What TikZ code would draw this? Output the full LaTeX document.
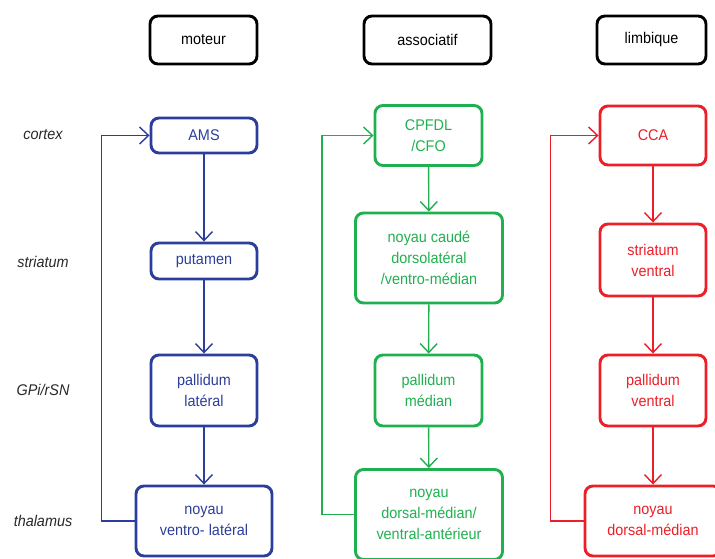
\documentclass[tikz,border=0pt]{standalone}
\usepackage{fontspec}
\setmainfont{Liberation Sans}[FakeStretch=0.93]
\usepackage{xcolor}
\usetikzlibrary{arrows.meta,positioning}

\definecolor{motblue}{RGB}{44,62,155}
\definecolor{assgreen}{RGB}{32,176,80}
\definecolor{limred}{RGB}{236,30,40}
\definecolor{levgrey}{RGB}{40,40,40}

\tikzset{
  box/.style={draw, rounded corners=8pt, line width=2.9pt, align=center,
    inner sep=0pt, font=\fontsize{15.5}{21}\selectfont},
  head/.style={box, black, minimum height=48pt},
  mot/.style={box, motblue},
  ass/.style={box, assgreen},
  lim/.style={box, limred},
  link/.style={->, line width=1.4pt},
  level/.style={levgrey, font=\fontsize{15.5}{21}\selectfont\itshape}
}

\begin{document}
\begin{tikzpicture}[x=1pt, y=1pt, >={Straight Barb[length=9pt,width=17pt]}]
    \useasboundingbox (0,0) rectangle (715,559);

    % column heads
    \node[head, minimum width=107pt] (moteur) at (203.5,519) {moteur};
    \node[head, minimum width=127pt] (assoc) at (427.5,519) {associatif};
    \node[head, minimum width=109pt] (limb) at (651.5,519) {limbique};

    % levels
    \foreach \y/\lev [count=\i] in {424/cortex, 297/striatum, 169/{GPi/rSN}, 38/thalamus} {
        \node[level] (lev\i) at (43,\y) {\lev};
    }

    % moteur loop
    \node[mot, minimum width=106pt, minimum height=35pt] (ams) at (204,423.5) {AMS};
    \node[mot, minimum width=106pt, minimum height=36pt] (put) at (204,298) {putamen};
    \node[mot, minimum width=106pt, minimum height=71pt] (gpl) at (204,168.5) {pallidum\\lat\'eral};
    \node[mot, minimum width=136pt, minimum height=70pt] (nvl) at (204,38) {noyau\\ventro- lat\'eral};
    \draw[link, motblue] (ams) -- (put);
    \draw[link, motblue] (put) -- (gpl);
    \draw[link, motblue] (gpl) -- (nvl);
    \draw[link, motblue] (nvl.west) -- ++(-33,0) |- (ams.west);

    % associatif loop
    \node[ass, minimum width=107pt, minimum height=60pt] (cpf) at (428.5,423.5) {CPFDL\\/CFO};
    \node[ass, minimum width=147pt, minimum height=90pt] (cau) at (429,301) {noyau caud\'e\\dorsolat\'eral\\/ventro-m\'edian};
    \node[ass, minimum width=107pt, minimum height=71pt] (gpm) at (428.5,168.5) {pallidum\\m\'edian};
    \node[ass, minimum width=147pt, minimum height=90pt] (ndm) at (429,44.5) {noyau\\dorsal-m\'edian/\\ventral-ant\'erieur};
    \draw[link, assgreen] (cpf) -- (cau);
    \draw[link, assgreen] (cau) -- (gpm);
    \draw[link, assgreen] (gpm) -- (ndm);
    \draw[link, assgreen] (ndm.west) -- ++(-32,0) |- (cpf.west);

    % limbique loop
    \node[lim, minimum width=106pt, minimum height=59pt] (cca) at (653,423.5) {CCA};
    \node[lim, minimum width=106pt, minimum height=72pt] (stv) at (653,299) {striatum\\ventral};
    \node[lim, minimum width=106pt, minimum height=71pt] (gpv) at (653,168.5) {pallidum\\ventral};
    \node[lim, minimum width=136pt, minimum height=70pt] (ndml) at (653,38) {noyau\\dorsal-m\'edian};
    \draw[link, limred] (cca) -- (stv);
    \draw[link, limred] (stv) -- (gpv);
    \draw[link, limred] (gpv) -- (ndml);
    \draw[link, limred] (ndml.west) -- ++(-33,0) |- (cca.west);

\end{tikzpicture}
\end{document}
